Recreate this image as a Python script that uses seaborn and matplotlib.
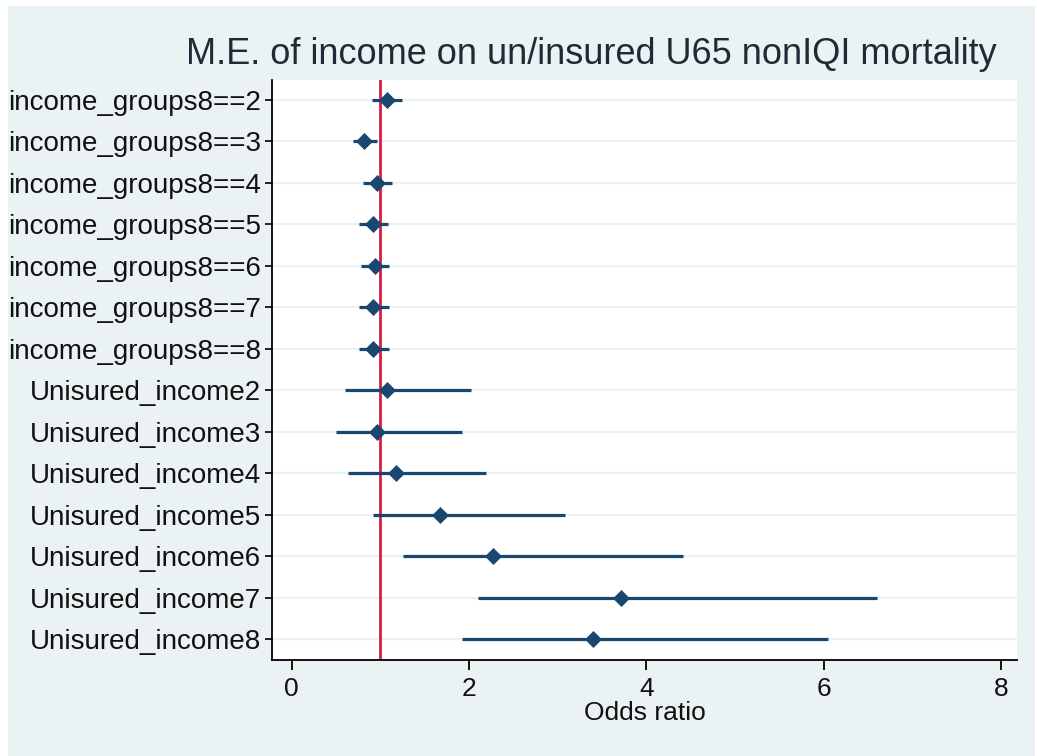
import matplotlib
matplotlib.use("Agg")
import matplotlib.pyplot as plt
import seaborn as sns
import pandas as pd
from matplotlib.patches import Rectangle

labels = ["income_groups8==2", "income_groups8==3", "income_groups8==4",
          "income_groups8==5", "income_groups8==6", "income_groups8==7",
          "income_groups8==8", "Unisured_income2", "Unisured_income3",
          "Unisured_income4", "Unisured_income5", "Unisured_income6",
          "Unisured_income7", "Unisured_income8"]
odds = [1.08, 0.815, 0.96, 0.92, 0.94, 0.92, 0.92,
        1.08, 0.96, 1.18, 1.675, 2.27, 3.71, 3.40]
ci_low = [0.91, 0.69, 0.81, 0.76, 0.785, 0.76, 0.76,
          0.60, 0.50, 0.64, 0.92, 1.26, 2.10, 1.92]
ci_high = [1.25, 0.96, 1.13, 1.085, 1.10, 1.10, 1.10,
           2.02, 1.92, 2.19, 3.08, 4.41, 6.60, 6.05]
xticks = [0, 2, 4, 6, 8]
ref_value = 1

df = pd.DataFrame({"label": labels, "odds": odds, "lo": ci_low, "hi": ci_high})
df["pos"] = range(len(df))

navy = "#1a476f"
bg = "#eaf2f3"

sns.set_style("white")
plt.rcParams["font.family"] = ["Liberation Sans", "DejaVu Sans"]

fig = plt.figure(figsize=(10.37, 7.56), dpi=100)
fig.patch.set_facecolor("white")
fig.patches.append(Rectangle((8 / 1037, 0), (1035 - 8) / 1037, (756 - 6) / 756,
                             transform=fig.transFigure, facecolor=bg,
                             edgecolor="none", zorder=-10))

ax = fig.add_axes([272 / 1037, 96 / 756, (1017 - 272) / 1037, (660 - 80) / 756])
ax.set_facecolor("white")

for p in df["pos"]:
    ax.axhline(p, color=bg, lw=1.6, zorder=0)

ax.axvline(ref_value, color="#d81b47", lw=2.0, zorder=1)
ax.hlines(df["pos"], df["lo"], df["hi"], color=navy, lw=2.3, zorder=2)
sns.scatterplot(data=df, x="odds", y="pos", marker="D", s=75, color=navy,
                edgecolor=navy, linewidth=0, ax=ax, zorder=3, legend=False)

ax.set_ylim(len(df) - 0.5, -0.48)
ax.set_xlim(-0.22, 8.18)
ax.set_yticks(df["pos"])
ax.set_yticklabels(df["label"])
ax.set_xticks(xticks)
ax.set_xticklabels([str(t) for t in xticks])

for s in ["top", "right"]:
    ax.spines[s].set_visible(False)
for s in ["left", "bottom"]:
    ax.spines[s].set_color("black")
    ax.spines[s].set_linewidth(1.3)

ax.tick_params(axis="y", which="both", left=True, length=5, width=1.2,
               color="black", labelsize=20, labelcolor="#111111", pad=3)
ax.tick_params(axis="x", which="both", bottom=True, length=7, width=1.3,
               color="black", labelsize=19, labelcolor="#111111", pad=5)
ax.set_xlabel("Odds ratio", fontsize=19, color="#111111", labelpad=0)
ax.set_ylabel("")

fig.text(591 / 1037, 1 - 55 / 756, "M.E. of income on un/insured U65 nonIQI mortality",
         ha="center", va="center", fontsize=26, color="#1e2a36")

fig.savefig("out.png", dpi=100, facecolor=fig.get_facecolor())
